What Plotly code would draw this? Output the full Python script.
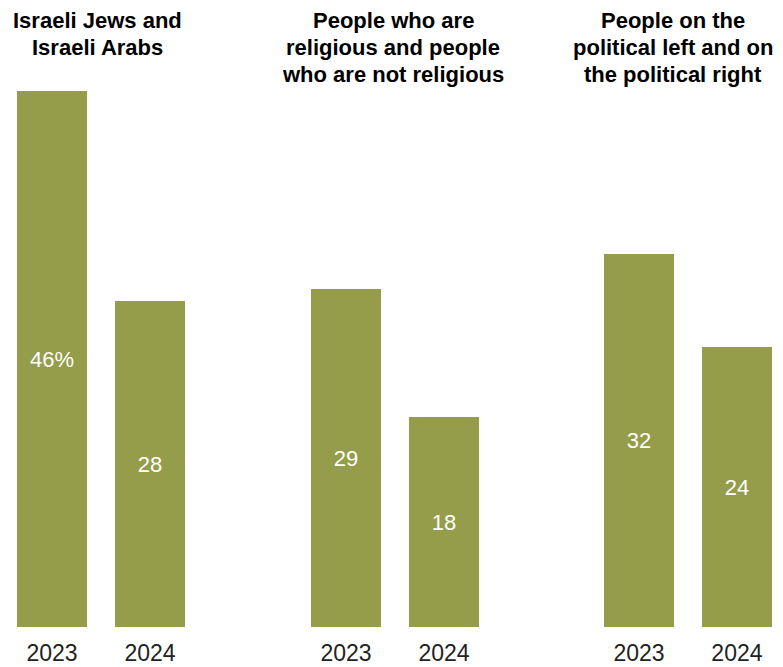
import plotly.graph_objects as go
from plotly.subplots import make_subplots

years = ["2023", "2024"]
panel_titles = [
    ["Israeli Jews and", "Israeli Arabs"],
    ["People who are", "religious and people", "who are not religious"],
    ["People on the", "political left and on", "the political right"],
]
jews_arabs = [46, 28]
religious = [29, 18]
left_right = [32, 24]
series = [jews_arabs, religious, left_right]

BAR = "#959d4a"
W, H = 783, 667
PLOT_H = 627

fig = make_subplots(rows=1, cols=3)
domains = [(3 / W, 199 / W), (297 / W, 493 / W), (590 / W, 782 / W)]
xranges = [[-0.5, 1.5], [-0.5, 1.5], [-0.5, 1.46]]
title_centers = [97 / W, 393 / W, 673 / W]

for k, vals in enumerate(series):
    labels = [f"{v}%" if (k == 0 and i == 0) else f"{v}" for i, v in enumerate(vals)]
    fig.add_trace(
        go.Bar(
            x=years, y=vals, text=labels, textposition="inside",
            insidetextanchor="middle", width=70 / 98,
            marker=dict(color=BAR, line=dict(width=0)),
            textfont=dict(color="white", size=22, family="Liberation Sans"),
            hoverinfo="skip", showlegend=False,
        ),
        row=1, col=k + 1,
    )
    ax = "xaxis" if k == 0 else f"xaxis{k + 1}"
    ay = "yaxis" if k == 0 else f"yaxis{k + 1}"
    fig.layout[ax].update(
        domain=list(domains[k]), range=xranges[k], showgrid=False, zeroline=False,
        showline=False, ticks="outside", ticklen=5, tickcolor="rgba(0,0,0,0)",
        tickfont=dict(size=23, color="#222222", family="Liberation Sans"),
        automargin=False,
    )
    fig.layout[ay].update(
        range=[0, PLOT_H / 11.65], visible=False, showgrid=False, zeroline=False,
        automargin=False,
    )
    for j, line in enumerate(panel_titles[k]):
        py = 21 + 26.5 * j
        fig.add_annotation(
            x=title_centers[k], y=1 - py / PLOT_H, xref="paper", yref="paper",
            xanchor="center", yanchor="middle",
            text=f"<b>{line}</b>", showarrow=False, align="center",
            font=dict(size=22, color="#000000", family="Liberation Sans"),
        )

fig.update_layout(
    width=W, height=H, margin=dict(l=0, r=0, t=0, b=H - PLOT_H),
    paper_bgcolor="white", plot_bgcolor="white", bargap=0,
)
fig.write_html("out.html")
